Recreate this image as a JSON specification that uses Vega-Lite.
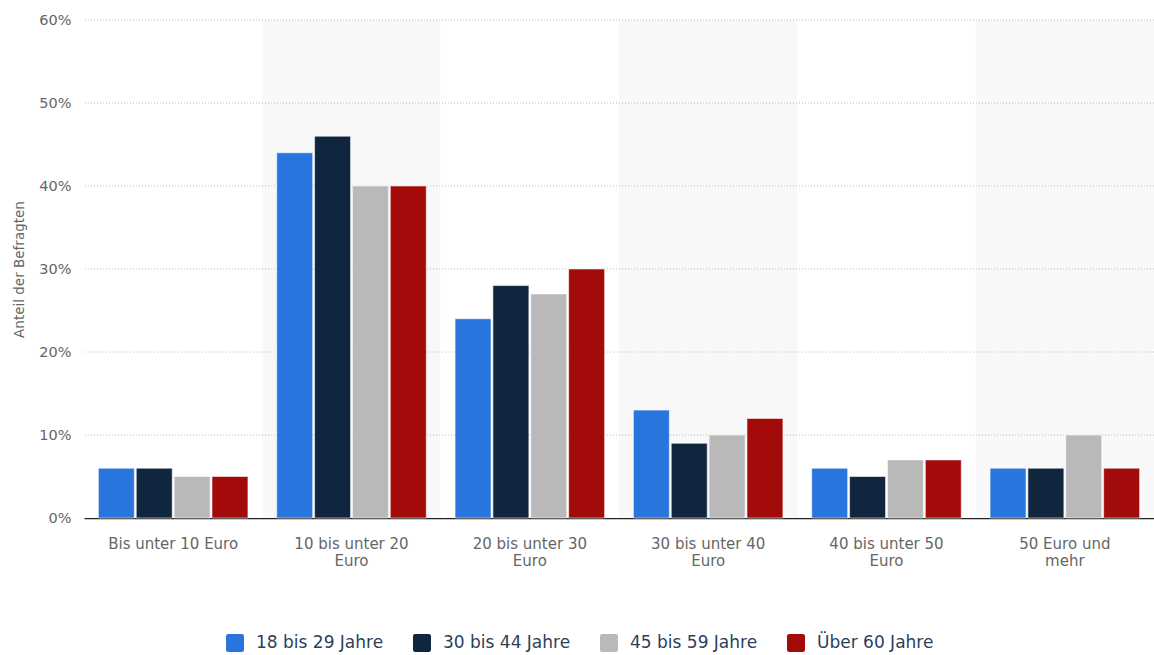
{
  "$schema": "https://vega.github.io/schema/vega-lite/v6.json",
  "width": 1070,
  "height": 498,
  "autosize": "none",
  "padding": {"left": 84, "top": 20, "right": 0, "bottom": 137},
  "background": "white",
  "config": {
    "view": {"stroke": null},
    "font": "DejaVu Sans"
  },
  "datasets": {
    "bands": [
      {"Kategorie": "Bis unter 10 Euro", "shade": "no"},
      {"Kategorie": "10 bis unter 20 Euro", "shade": "yes"},
      {"Kategorie": "20 bis unter 30 Euro", "shade": "no"},
      {"Kategorie": "30 bis unter 40 Euro", "shade": "yes"},
      {"Kategorie": "40 bis unter 50 Euro", "shade": "no"},
      {"Kategorie": "50 Euro und mehr", "shade": "yes"}
    ],
    "grid": [
      {"Anteil": 0.1}, {"Anteil": 0.2}, {"Anteil": 0.3},
      {"Anteil": 0.4}, {"Anteil": 0.5}, {"Anteil": 0.6}
    ],
    "main": [
      {"Kategorie": "Bis unter 10 Euro", "Alter": "18 bis 29 Jahre", "Anteil": 0.06},
      {"Kategorie": "Bis unter 10 Euro", "Alter": "30 bis 44 Jahre", "Anteil": 0.06},
      {"Kategorie": "Bis unter 10 Euro", "Alter": "45 bis 59 Jahre", "Anteil": 0.05},
      {"Kategorie": "Bis unter 10 Euro", "Alter": "Über 60 Jahre", "Anteil": 0.05},
      {"Kategorie": "10 bis unter 20 Euro", "Alter": "18 bis 29 Jahre", "Anteil": 0.44},
      {"Kategorie": "10 bis unter 20 Euro", "Alter": "30 bis 44 Jahre", "Anteil": 0.46},
      {"Kategorie": "10 bis unter 20 Euro", "Alter": "45 bis 59 Jahre", "Anteil": 0.40},
      {"Kategorie": "10 bis unter 20 Euro", "Alter": "Über 60 Jahre", "Anteil": 0.40},
      {"Kategorie": "20 bis unter 30 Euro", "Alter": "18 bis 29 Jahre", "Anteil": 0.24},
      {"Kategorie": "20 bis unter 30 Euro", "Alter": "30 bis 44 Jahre", "Anteil": 0.28},
      {"Kategorie": "20 bis unter 30 Euro", "Alter": "45 bis 59 Jahre", "Anteil": 0.27},
      {"Kategorie": "20 bis unter 30 Euro", "Alter": "Über 60 Jahre", "Anteil": 0.30},
      {"Kategorie": "30 bis unter 40 Euro", "Alter": "18 bis 29 Jahre", "Anteil": 0.13},
      {"Kategorie": "30 bis unter 40 Euro", "Alter": "30 bis 44 Jahre", "Anteil": 0.09},
      {"Kategorie": "30 bis unter 40 Euro", "Alter": "45 bis 59 Jahre", "Anteil": 0.10},
      {"Kategorie": "30 bis unter 40 Euro", "Alter": "Über 60 Jahre", "Anteil": 0.12},
      {"Kategorie": "40 bis unter 50 Euro", "Alter": "18 bis 29 Jahre", "Anteil": 0.06},
      {"Kategorie": "40 bis unter 50 Euro", "Alter": "30 bis 44 Jahre", "Anteil": 0.05},
      {"Kategorie": "40 bis unter 50 Euro", "Alter": "45 bis 59 Jahre", "Anteil": 0.07},
      {"Kategorie": "40 bis unter 50 Euro", "Alter": "Über 60 Jahre", "Anteil": 0.07},
      {"Kategorie": "50 Euro und mehr", "Alter": "18 bis 29 Jahre", "Anteil": 0.06},
      {"Kategorie": "50 Euro und mehr", "Alter": "30 bis 44 Jahre", "Anteil": 0.06},
      {"Kategorie": "50 Euro und mehr", "Alter": "45 bis 59 Jahre", "Anteil": 0.10},
      {"Kategorie": "50 Euro und mehr", "Alter": "Über 60 Jahre", "Anteil": 0.06}
    ]
  },
  "resolve": {"scale": {"color": "independent"}},
  "layer": [
    {
      "data": {"name": "bands"},
      "mark": {"type": "bar"},
      "encoding": {
        "x": {
          "field": "Kategorie", "type": "nominal", "sort": null,
          "scale": {"paddingInner": 0, "paddingOuter": 0},
          "axis": {
            "title": null,
            "labelAngle": 0,
            "domain": true,
            "domainColor": "#222222",
            "domainWidth": 1.5,
            "ticks": false,
            "labelPadding": 18,
            "labelFont": "DejaVu Sans",
            "labelFontSize": 15,
            "labelColor": "#666666",
            "labelLineHeight": 17,
            "labelExpr": "datum.value == 'Bis unter 10 Euro' ? datum.label : datum.value == '50 Euro und mehr' ? ['50 Euro und', 'mehr'] : [replace(datum.label, ' Euro', ''), 'Euro']"
          }
        },
        "color": {
          "field": "shade", "type": "nominal",
          "scale": {"domain": ["no", "yes"], "range": ["#ffffff", "#f8f8f8"]},
          "legend": null
        }
      }
    },
    {
      "data": {"name": "grid"},
      "mark": {"type": "rule", "color": "#b8b8b8", "strokeDash": [1, 2], "strokeWidth": 1},
      "encoding": {
        "y": {
          "field": "Anteil", "type": "quantitative",
          "scale": {"domain": [0, 0.6], "nice": false},
          "axis": {
            "title": "Anteil der Befragten",
            "titleFont": "DejaVu Sans",
            "titleFontSize": 13.5,
            "titleFontWeight": "normal",
            "titleColor": "#666666",
            "titlePadding": 12,
            "format": ".0%",
            "values": [0, 0.1, 0.2, 0.3, 0.4, 0.5, 0.6],
            "labelOverlap": false,
            "labelFlush": false,
            "domain": false,
            "ticks": false,
            "grid": false,
            "labelPadding": 13,
            "labelFont": "DejaVu Sans",
            "labelFontSize": 14.5,
            "labelColor": "#666666"
          }
        }
      }
    },
    {
      "data": {"name": "main"},
      "mark": {"type": "bar", "stroke": "white", "strokeWidth": 0.7, "strokeOpacity": 0.8},
      "encoding": {
        "x": {
          "field": "Kategorie", "type": "nominal", "sort": null,
          "scale": {"paddingInner": 0, "paddingOuter": 0},
          "axis": {
            "title": null,
            "labelAngle": 0,
            "domain": true,
            "domainColor": "#222222",
            "domainWidth": 1.5,
            "ticks": false,
            "labelPadding": 18,
            "labelFont": "DejaVu Sans",
            "labelFontSize": 15,
            "labelColor": "#666666",
            "labelLineHeight": 17,
            "labelExpr": "datum.value == 'Bis unter 10 Euro' ? datum.label : datum.value == '50 Euro und mehr' ? ['50 Euro und', 'mehr'] : [replace(datum.label, ' Euro', ''), 'Euro']"
          }
        },
        "xOffset": {
          "field": "Alter", "type": "nominal",
          "sort": ["18 bis 29 Jahre", "30 bis 44 Jahre", "45 bis 59 Jahre", "Über 60 Jahre"],
          "scale": {"paddingInner": 0.05, "paddingOuter": 0.38}
        },
        "y": {
          "field": "Anteil", "type": "quantitative",
          "scale": {"domain": [0, 0.6], "nice": false},
          "axis": {
            "title": "Anteil der Befragten",
            "titleFont": "DejaVu Sans",
            "titleFontSize": 13.5,
            "titleFontWeight": "normal",
            "titleColor": "#666666",
            "titlePadding": 12,
            "format": ".0%",
            "values": [0, 0.1, 0.2, 0.3, 0.4, 0.5, 0.6],
            "labelOverlap": false,
            "labelFlush": false,
            "domain": false,
            "ticks": false,
            "grid": false,
            "labelPadding": 13,
            "labelFont": "DejaVu Sans",
            "labelFontSize": 14.5,
            "labelColor": "#666666"
          }
        },
        "color": {
          "field": "Alter", "type": "nominal",
          "sort": ["18 bis 29 Jahre", "30 bis 44 Jahre", "45 bis 59 Jahre", "Über 60 Jahre"],
          "scale": {"range": ["#2876DD", "#10263E", "#B9B9B9", "#A30B0B"]},
          "legend": {
            "title": null,
            "orient": "none",
            "direction": "horizontal",
            "legendX": 142,
            "legendY": 614,
            "symbolType": "M-1,-0.75 Q-1,-1 -0.75,-1 L0.75,-1 Q1,-1 1,-0.75 L1,0.75 Q1,1 0.75,1 L-0.75,1 Q-1,1 -1,0.75 Z",
            "symbolSize": 324,
            "symbolStrokeWidth": 0,
            "symbolOpacity": 1,
            "labelFontSize": 17,
            "labelFont": "DejaVu Sans",
            "labelColor": "#2a3f5a",
            "labelOffset": 12,
            "columnPadding": 29
          }
        }
      }
    }
  ]
}
